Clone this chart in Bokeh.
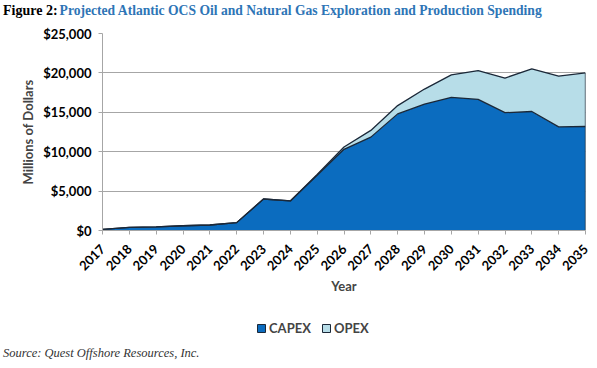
import math
from bokeh.plotting import figure
from bokeh.layouts import column
from bokeh.models import (Range1d, FixedTicker, NumeralTickFormatter, Div,
                          Legend, LegendItem, ColumnDataSource)
from bokeh.embed import file_html
from bokeh.resources import INLINE

years = [2017, 2018, 2019, 2020, 2021, 2022, 2023, 2024, 2025, 2026,
         2027, 2028, 2029, 2030, 2031, 2032, 2033, 2034, 2035]
capex = [150, 400, 450, 600, 700, 1000, 4000, 3750, 7000, 10300,
         11850, 14800, 16050, 16900, 16650, 14950, 15100, 13150, 13200]
opex = [0, 0, 0, 0, 0, 0, 0, 0, 100, 300,
        850, 1050, 1900, 2850, 3650, 4400, 5400, 6450, 6800]
y_ticks = [0, 5000, 10000, 15000, 20000, 25000]

total = [c + o for c, o in zip(capex, opex)]
src = ColumnDataSource(dict(year=years, capex=capex, opex=opex, total=total))

CAPEX_C = "#0B6CBF"
OPEX_C = "#B7DDE8"
EDGE = "#1B2838"
GRID = "#A6A6A6"
FONT = "Lato"
W = 597

# ---- title ----
title = Div(
    text=('<span style="color:#000000">Figure 2:</span>'
          '<span style="color:#2E75B6; margin-left:2px; font-size:13.6px">'
          'Projected Atlantic OCS Oil and Natural Gas Exploration and '
          'Production Spending</span>'),
    width=W, height=25, margin=0,
    styles={"font-family": "Liberation Serif", "font-size": "14px",
            "font-weight": "bold", "padding-left": "3px", "padding-top": "3px",
            "line-height": "16px", "white-space": "nowrap",
            "box-sizing": "border-box"})

# ---- main chart ----
p = figure(width=W, height=280, output_backend="svg", toolbar_location=None,
           x_range=Range1d(2017, 2035), y_range=Range1d(0, 25000),
           min_border_left=102, min_border_right=12, min_border_top=8,
           min_border_bottom=75)
p.outline_line_color = None

p.varea_stack(stackers=["capex", "opex"], x="year", color=[CAPEX_C, OPEX_C],
              source=src)
p.line(x="year", y="total", source=src, line_color=EDGE, line_width=1.3)
p.line(x="year", y="capex", source=src, line_color=EDGE, line_width=1.3)
p.segment(x0=[years[-1]], y0=[0], x1=[years[-1]], y1=[total[-1]],
          line_color=EDGE, line_width=1.3)

p.xgrid.visible = False
p.ygrid.grid_line_color = GRID
p.ygrid.grid_line_width = 1.2
p.ygrid.ticker = FixedTicker(ticks=y_ticks)

p.xaxis.ticker = FixedTicker(ticks=years)
p.xaxis.major_label_orientation = math.pi / 4
p.xaxis.major_label_text_font = FONT
p.xaxis.major_label_text_font_style = "bold"
p.xaxis.major_label_text_font_size = "13px"
p.xaxis.major_label_text_color = "black"
p.xaxis.major_label_standoff = 12
p.xaxis.axis_line_color = GRID
p.xaxis.major_tick_line_color = GRID
p.xaxis.major_tick_out = 4
p.xaxis.major_tick_in = 0
p.xaxis.minor_tick_line_color = None
p.xaxis.axis_label = "Year"
p.xaxis.axis_label_text_font = FONT
p.xaxis.axis_label_text_font_style = "bold"
p.xaxis.axis_label_text_font_size = "13px"
p.xaxis.axis_label_standoff = 0

p.yaxis.ticker = FixedTicker(ticks=y_ticks)
p.yaxis.formatter = NumeralTickFormatter(format="$0,0")
p.yaxis.major_label_text_font = FONT
p.yaxis.major_label_text_font_style = "bold"
p.yaxis.major_label_text_font_size = "13px"
p.yaxis.major_label_text_color = "black"
p.yaxis.axis_line_color = GRID
p.yaxis.major_tick_line_color = GRID
p.yaxis.major_tick_out = 4
p.yaxis.major_tick_in = 0
p.yaxis.minor_tick_line_color = None
p.yaxis.major_label_standoff = 7
p.yaxis.axis_label = "Millions of Dollars"
p.yaxis.axis_label_text_font = FONT
p.yaxis.axis_label_text_font_style = "bold"
p.yaxis.axis_label_text_font_size = "13px"
p.yaxis.axis_label_standoff = 4

# ---- legend strip ----
leg = figure(width=W, height=35, output_backend="svg", toolbar_location=None,
             x_range=Range1d(0, 1), y_range=Range1d(0, 1),
             x_axis_type=None, y_axis_type=None, min_border=0,
             min_border_left=102, min_border_right=12,
             min_border_top=0, min_border_bottom=0)
leg.outline_line_color = None
leg.xgrid.visible = False
leg.ygrid.visible = False
r_c = leg.quad(left=[-10], right=[-9], bottom=[-10], top=[-9],
               fill_color=CAPEX_C, line_color=EDGE, line_width=1)
r_o = leg.quad(left=[-10], right=[-9], bottom=[-10], top=[-9],
               fill_color=OPEX_C, line_color=EDGE, line_width=1)
legend = Legend(items=[LegendItem(label="CAPEX", renderers=[r_c]),
                       LegendItem(label="OPEX", renderers=[r_o])],
                orientation="horizontal", location=(154, 4),
                glyph_width=10, glyph_height=10, label_standoff=3, spacing=10,
                padding=2, margin=0, border_line_color=None,
                background_fill_alpha=0,
                label_text_font=FONT, label_text_font_style="bold",
                label_text_font_size="13px")
leg.add_layout(legend, "center")

# ---- source ----
source = Div(
    text="Source: Quest Offshore Resources, Inc.",
    width=W, height=28, margin=0,
    styles={"font-family": "Liberation Serif", "font-size": "12.5px",
            "font-style": "italic", "color": "#333333",
            "padding-left": "3px", "padding-top": "6px",
            "line-height": "14px", "white-space": "nowrap",
            "box-sizing": "border-box"})

layout = column(title, p, leg, source, spacing=0)
open("out.html", "w").write(file_html(layout, INLINE))
